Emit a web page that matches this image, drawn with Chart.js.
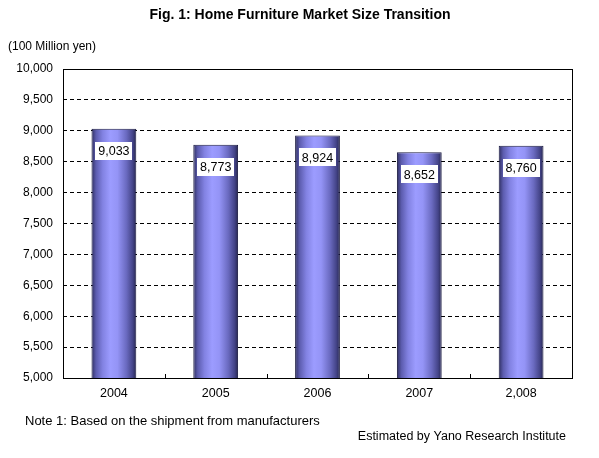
<!DOCTYPE html>
<html>
<head>
<meta charset="utf-8">
<script src="https://cdn.jsdelivr.net/npm/chart.js@4/dist/chart.umd.min.js"></script>
<style>
  html, body { margin: 0; padding: 0; background: #fff; }
  #wrap { position: relative; width: 599px; height: 458px; }
</style>
</head>
<body>
<div id="wrap"><canvas id="c" width="599" height="458"></canvas></div>
<script>
const categories = ['2004', '2005', '2006', '2007', '2,008'];
const marketSize = [9033, 8773, 8924, 8652, 8760];
const yMin = 5000, yMax = 10000, yStep = 500;

const titleText = 'Fig. 1: Home Furniture Market Size Transition';
const unitText = '(100 Million yen)';
const noteText = 'Note 1: Based on the shipment from manufacturers';
const sourceText = 'Estimated by Yano Research Institute';

const FONT = '"Liberation Sans", Arial, sans-serif';

function fmt(v) { return v.toLocaleString('en-US'); }

function barGradient(ctx) {
  const chart = ctx.chart;
  const xs = chart.scales && chart.scales.x;
  if (!xs || !chart.chartArea) return '#9090f0';
  const cx = xs.getPixelForValue(ctx.dataIndex);
  const w = (xs.width / categories.length) * 0.44;
  const g = chart.ctx.createLinearGradient(cx - w / 2, 0, cx + w / 2, 0);
  g.addColorStop(0.00, '#2e2e60');
  g.addColorStop(0.10, '#5c5cae');
  g.addColorStop(0.25, '#8282e2');
  g.addColorStop(0.42, '#9c9cff');
  g.addColorStop(0.58, '#9494f6');
  g.addColorStop(0.78, '#6a6ac0');
  g.addColorStop(0.92, '#444488');
  g.addColorStop(1.00, '#262650');
  return g;
}

const decorPlugin = {
  id: 'decor',
  beforeDatasetsDraw(chart) {
    const { ctx, chartArea: a } = chart;
    const xs = chart.scales.x;
    ctx.save();
    ctx.strokeStyle = '#000';
    ctx.lineWidth = 1;
    for (let i = 0; i < categories.length - 1; i++) {
      const bx = Math.round((xs.getPixelForValue(i) + xs.getPixelForValue(i + 1)) / 2) + 0.5;
      ctx.beginPath();
      ctx.moveTo(bx, a.bottom);
      ctx.lineTo(bx, a.bottom - 4);
      ctx.stroke();
    }
    ctx.restore();
  },
  afterDatasetsDraw(chart) {
    const { ctx, chartArea: a } = chart;
    ctx.save();
    ctx.strokeStyle = '#000';
    ctx.lineWidth = 1;
    ctx.strokeRect(Math.round(a.left) + 0.5, Math.round(a.top) + 0.5,
      Math.round(a.right - a.left), Math.round(a.bottom - a.top));
    const meta = chart.getDatasetMeta(0);
    ctx.font = '12.5px ' + FONT;
    ctx.textAlign = 'center';
    ctx.textBaseline = 'middle';
    meta.data.forEach((el, i) => {
      const txt = fmt(marketSize[i]);
      const tw = ctx.measureText(txt).width;
      const bw = Math.round(tw + 6), bh = 18;
      const cx = el.x, cy = el.y + 22;
      const x0 = Math.round(cx - bw / 2), y0 = Math.round(cy - bh / 2);
      ctx.fillStyle = '#fff';
      ctx.fillRect(x0, y0, bw, bh);
      ctx.fillStyle = '#000';
      ctx.fillText(txt, cx, cy + 1);
    });
    ctx.restore();
  },
  afterDraw(chart) {
    const { ctx } = chart;
    ctx.save();
    ctx.fillStyle = '#000';
    ctx.textBaseline = 'middle';
    ctx.font = 'bold 14px ' + FONT;
    ctx.textAlign = 'center';
    ctx.fillText(titleText, 300, 15);
    ctx.font = '12px ' + FONT;
    ctx.textAlign = 'left';
    ctx.fillText(unitText, 8, 47);
    ctx.font = '13px ' + FONT;
    ctx.fillText(noteText, 25, 421);
    ctx.font = '12.5px ' + FONT;
    ctx.textAlign = 'right';
    ctx.fillText(sourceText, 566, 437);
    ctx.restore();
  }
};

new Chart(document.getElementById('c'), {
  type: 'bar',
  data: {
    labels: categories,
    datasets: [{
      data: marketSize,
      backgroundColor: barGradient,
      borderColor: '#1a1a40',
      borderWidth: 1,
      barPercentage: 0.44,
      categoryPercentage: 1.0
    }]
  },
  options: {
    responsive: false,
    animation: false,
    devicePixelRatio: 1,
    layout: { padding: { left: 0, top: 69, right: 27, bottom: 50 } },
    plugins: {
      legend: { display: false },
      title: { display: false },
      tooltip: { enabled: false }
    },
    scales: {
      x: {
        afterFit(s) { s.height = 30; },
        grid: { display: false, drawTicks: false },
        border: { display: false },
        ticks: { color: '#000', font: { family: FONT, size: 12.5 }, padding: 8 }
      },
      y: {
        min: yMin,
        max: yMax,
        afterFit(s) { s.width = 63; },
        grid: {
          color: '#000',
          lineWidth: 1,
          drawTicks: false
        },
        border: { display: false, dash: [4, 3] },
        ticks: {
          stepSize: yStep,
          color: '#000',
          font: { family: FONT, size: 12 },
          padding: 10,
          callback: v => fmt(v)
        }
      }
    }
  },
  plugins: [decorPlugin]
});
</script>
</body>
</html>
